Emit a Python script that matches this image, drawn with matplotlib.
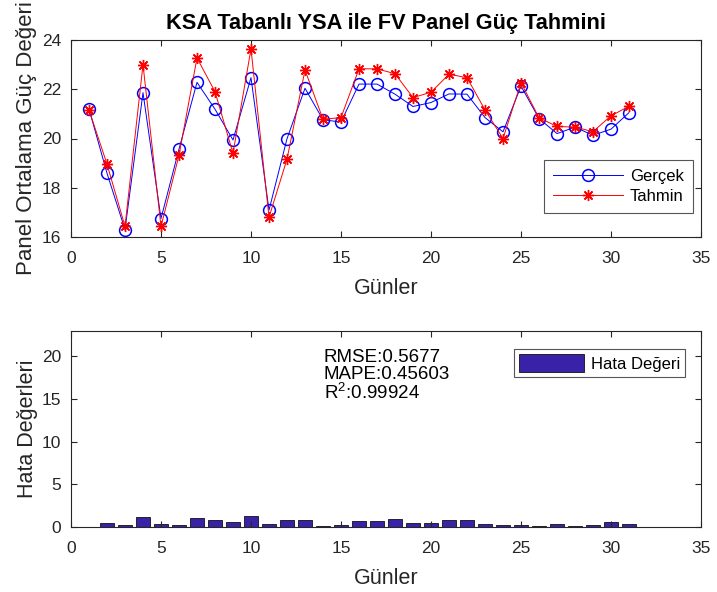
import matplotlib
matplotlib.use("Agg")
import matplotlib.pyplot as plt
import numpy as np

plt.rcParams["font.family"] = ["Liberation Sans", "DejaVu Sans"]
plt.rcParams["mathtext.fontset"] = "custom"
plt.rcParams["mathtext.rm"] = "Liberation Sans"

# data
gunler = list(range(1, 32))
gercek = [21.20, 18.59, 16.30, 21.86, 16.75, 19.57, 22.28, 21.19, 19.94, 22.47,
          17.09, 19.99, 22.04, 20.76, 20.67, 22.21, 22.21, 21.80, 21.30, 21.46,
          21.81, 21.80, 20.85, 20.27, 22.13, 20.81, 20.20, 20.46, 20.13, 20.38, 21.05]
tahmin = [21.16, 18.96, 16.43, 23.00, 16.43, 19.32, 23.27, 21.90, 19.40, 23.64,
          16.80, 19.16, 22.78, 20.78, 20.85, 22.83, 22.83, 22.63, 21.66, 21.88,
          22.61, 22.47, 21.16, 20.00, 22.27, 20.84, 20.49, 20.46, 20.28, 20.92, 21.31]
hata = [0.05, 0.47, 0.23, 1.17, 0.35, 0.23, 1.01, 0.78, 0.55, 1.25,
        0.35, 0.78, 0.78, 0.08, 0.23, 0.66, 0.68, 0.90, 0.43, 0.50,
        0.82, 0.78, 0.39, 0.23, 0.23, 0.08, 0.35, 0.08, 0.23, 0.62, 0.35]
metin = "RMSE:0.5677\nMAPE:0.45603\nR$^2$:0.99924"

AX_C = "#262626"
W, H = 717, 592
fig = plt.figure(figsize=(W / 100, H / 100), dpi=100)
ax1 = fig.add_axes([71 / W, 1 - 237 / H, 630 / W, 197 / H])
ax2 = fig.add_axes([71 / W, 1 - 527 / H, 630 / W, 196.5 / H])


def style(ax):
    ax.tick_params(direction="in", top=True, right=True, length=4, width=0.8,
                   labelsize=12.5, colors=AX_C)
    ax.tick_params(axis="x", pad=10)
    ax.tick_params(axis="y", pad=7)
    for s in ax.spines.values():
        s.set_color(AX_C)
        s.set_linewidth(0.8)


# ---- ust grafik
ax1.plot(gunler, gercek, color="#0000ff", lw=0.7, marker="o", ms=8.5,
         mfc="none", mew=1.1, label="Gerçek")
ax1.plot(gunler, tahmin, color="#ff0000", lw=0.7, marker=(8, 2, 0), ms=8,
         mew=1.0, label="Tahmin")
ax1.set_xlim(0, 35)
ax1.set_ylim(16, 24)
ax1.set_xticks(range(0, 36, 5))
ax1.set_yticks(range(16, 25, 2))
style(ax1)
ax1.set_title("KSA Tabanlı YSA ile FV Panel Güç Tahmini", fontsize=15.7,
              fontweight="bold", pad=8)
ax1.set_xlabel("Günler", fontsize=15.5, color=AX_C, labelpad=9)
ax1.set_ylabel("Panel Ortalama Güç Değeri", fontsize=16, color=AX_C, labelpad=3.5)
leg1 = ax1.legend(loc="lower right", bbox_to_anchor=(0.987, 0.122), fontsize=12,
                  fancybox=False, framealpha=1, edgecolor="#555555",
                  handlelength=4.2, handletextpad=0.4, borderpad=0.55,
                  labelspacing=0.3, borderaxespad=0)
leg1.get_frame().set_linewidth(0.8)

# ---- alt grafik
ax2.bar(gunler, hata, width=0.8, color="#3a22a8", edgecolor="#111111", lw=0.6,
        label="Hata Değeri")
ax2.set_xlim(0, 35)
ax2.set_ylim(0, 23)
ax2.set_xticks(range(0, 36, 5))
ax2.set_yticks(range(0, 21, 5))
style(ax2)
ax2.set_xlabel("Günler", fontsize=15.5, color=AX_C, labelpad=9)
ax2.set_ylabel("Hata Değerleri", fontsize=15.5, color=AX_C, labelpad=3)
ax2.text(14.05, 20.8, metin, fontsize=13.5, va="top", ha="left",
         linespacing=0.97, color="black")
leg2 = ax2.legend(loc="upper right", bbox_to_anchor=(0.975, 0.907), fontsize=12,
                  fancybox=False, framealpha=1, edgecolor="#555555",
                  handlelength=3.9, handleheight=1.35, handletextpad=0.4,
                  borderpad=0.3, borderaxespad=0)
leg2.get_frame().set_linewidth(0.8)

fig.savefig("out.png", dpi=100)
